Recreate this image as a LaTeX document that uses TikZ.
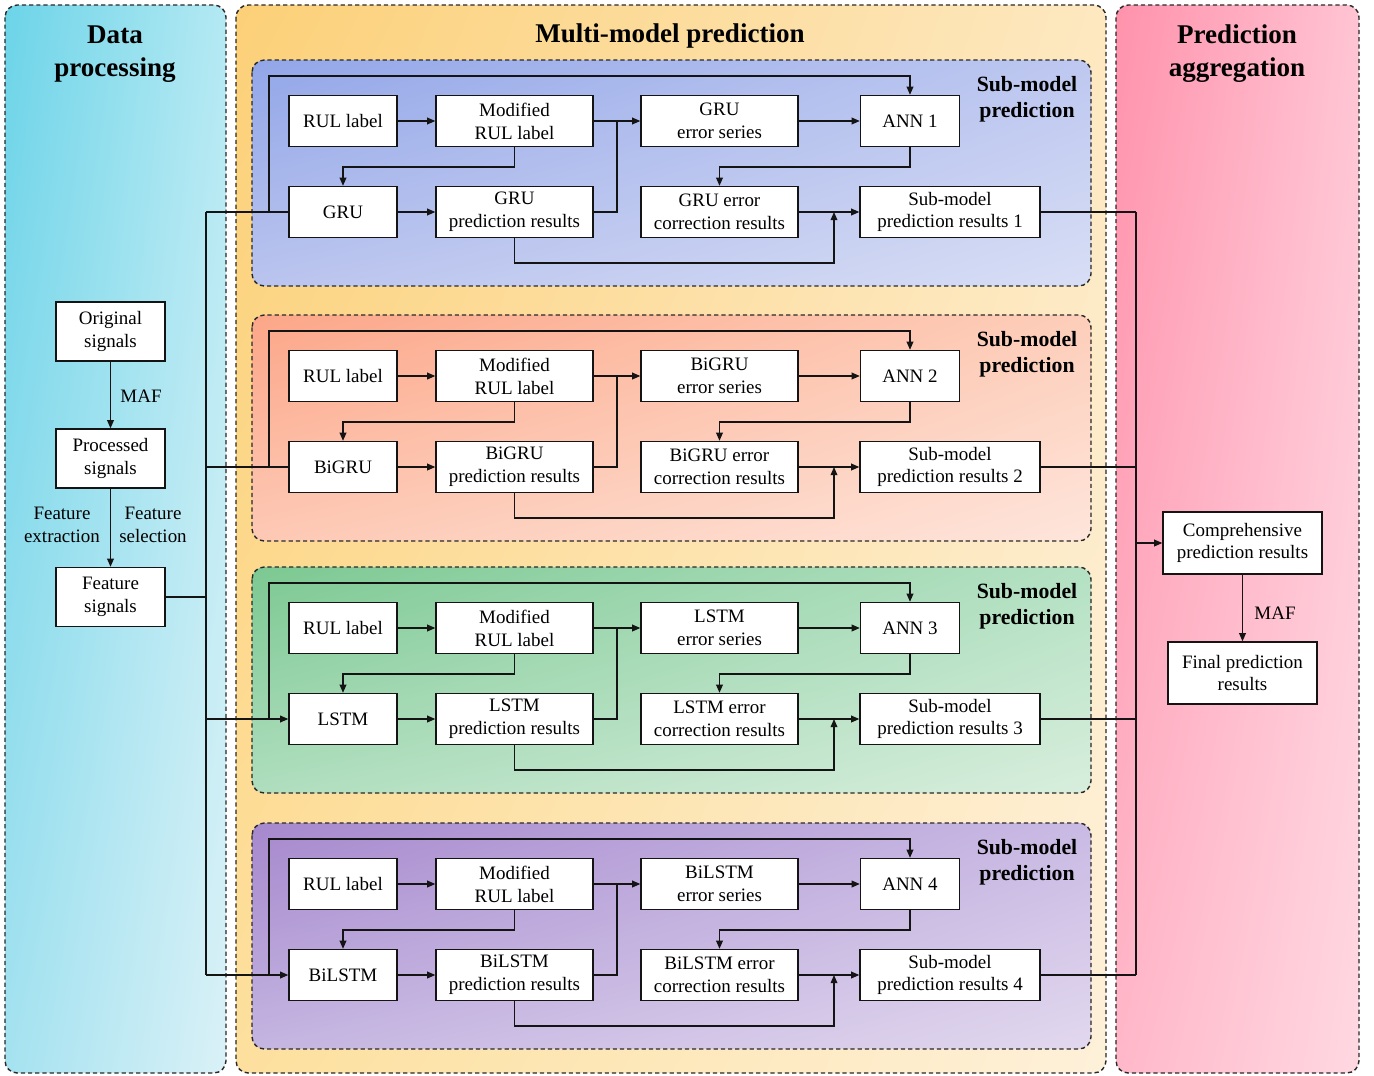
\documentclass[tikz,border=0pt]{standalone}
\usepackage{fontspec}
\setmainfont{Liberation Serif}
\usetikzlibrary{arrows.meta,calc,shadings}
\def\pxu{0.569pt}
\definecolor{dul}{RGB}{108,212,232}
\definecolor{dur}{RGB}{180,233,243}
\definecolor{dll}{RGB}{165,226,240}
\definecolor{dlr}{RGB}{218,241,247}
\definecolor{mul}{RGB}{252,208,120}
\definecolor{mur}{RGB}{253,232,192}
\definecolor{mll}{RGB}{253,224,158}
\definecolor{mlr}{RGB}{254,241,218}
\definecolor{aul}{RGB}{255,146,172}
\definecolor{aur}{RGB}{255,196,211}
\definecolor{all}{RGB}{255,184,201}
\definecolor{alr}{RGB}{255,216,226}
\definecolor{s1ul}{RGB}{146,166,232}
\definecolor{s1ur}{RGB}{190,200,240}
\definecolor{s1ll}{RGB}{186,196,238}
\definecolor{s1lr}{RGB}{216,222,245}
\definecolor{s2ul}{RGB}{252,166,136}
\definecolor{s2ur}{RGB}{253,206,186}
\definecolor{s2ll}{RGB}{253,201,181}
\definecolor{s2lr}{RGB}{254,229,219}
\definecolor{s3ul}{RGB}{124,200,146}
\definecolor{s3ur}{RGB}{180,225,195}
\definecolor{s3ll}{RGB}{175,222,190}
\definecolor{s3lr}{RGB}{216,238,221}
\definecolor{s4ul}{RGB}{166,136,205}
\definecolor{s4ur}{RGB}{201,186,228}
\definecolor{s4ll}{RGB}{196,181,225}
\definecolor{s4lr}{RGB}{226,216,238}
\definecolor{dashc}{RGB}{40,40,40}
\definecolor{linec}{RGB}{20,20,20}
\tikzset{
  panelborder/.style={draw=dashc, line width=0.8pt, dash pattern=on 2.4pt off 1.7pt, rounded corners=7pt},
  box/.style={draw=linec, fill=white, line width=0.8pt, inner sep=0pt, align=center,
    font=\fontsize{10.8}{13}\selectfont, minimum height=51*\pxu},
  conn/.style={draw=linec, line width=0.7pt},
  arr/.style={conn, -{Triangle[length=4.6pt,width=3.8pt]}},
  plain/.style={conn},
  lbl/.style={font=\fontsize{10.8}{13}\selectfont, align=center, inner sep=0pt},
  ttl/.style={font=\fontsize{15.4}{18.8}\selectfont\bfseries, align=center, inner sep=0pt},
  subttl/.style={font=\fontsize{12.4}{14.8}\selectfont\bfseries, align=center, inner sep=0pt},
}
\begin{document}
\begin{tikzpicture}[x=0.02cm,y=-0.02cm]
\fill[white] (0,0) rectangle (1374,1076);
\useasboundingbox (0,0) rectangle (1374,1076);
% outer panels
\shade[rounded corners=7pt, upper left=dul, upper right=dur, lower left=dll, lower right=dlr] (5,5) rectangle (226,1073);
\path[panelborder] (5,5) rectangle (226,1073);
\shade[rounded corners=7pt, upper left=mul, upper right=mur, lower left=mll, lower right=mlr] (236,5) rectangle (1106,1073);
\path[panelborder] (236,5) rectangle (1106,1073);
\shade[rounded corners=7pt, upper left=aul, upper right=aur, lower left=all, lower right=alr] (1116,5) rectangle (1359,1073);
\path[panelborder] (1116,5) rectangle (1359,1073);
\node[ttl] (tdata) at (115,54) {Data\\processing};
\node[ttl] (tmulti) at (670,36) {Multi-model prediction};
\node[ttl] (tagg) at (1237,54) {Prediction\\aggregation};
% sub panels
\foreach \i/\T/\m/\tip in {1/60/GRU/plain, 2/315/BiGRU/plain, 3/567/LSTM/arr, 4/823/BiLSTM/arr}{
  \pgfmathsetmacro{\ra}{\T+61}
  \pgfmathsetmacro{\rb}{\T+152}
  \shade[rounded corners=7pt, upper left=s\i ul, upper right=s\i ur, lower left=s\i ll, lower right=s\i lr] (252,\T) rectangle (1091,{\T+226});
  \path[panelborder] (252,\T) rectangle (1091,{\T+226});
  \node[subttl] (st\i) at (1027,{\T+39}) {Sub-model\\prediction};
  \node[box, minimum width=108*\pxu] (rul\i) at (343,\ra) {RUL label};
  \node[box, minimum width=157*\pxu] (mod\i) at (514.5,\ra) {Modified\\RUL label};
  \node[box, minimum width=157*\pxu] (err\i) at (719.5,\ra) {\m\\error series};
  \node[box, minimum width=99*\pxu] (ann\i) at (910,\ra) {ANN \i};
  \node[box, minimum width=108*\pxu] (mdl\i) at (343,\rb) {\m};
  \node[box, minimum width=157*\pxu] (pred\i) at (514.5,\rb) {\m\\prediction results};
  \node[box, minimum width=157*\pxu] (corr\i) at (719.5,\rb) {\m\ error\\correction results};
  \node[box, minimum width=180*\pxu] (sub\i) at (950,\rb) {Sub-model\\prediction results \i};
  \coordinate (top\i) at (0,{\T+16});
  \coordinate (mid\i) at (0,{\T+107});
  \coordinate (bot\i) at (0,{\T+203});
  \coordinate (jn\i) at (617,\ra);
  \coordinate (fb\i) at (269,\rb);
  \coordinate (up\i) at (834,\rb);
  \coordinate (lb\i) at (206,\rb);
  \coordinate (rb\i) at (1136,\rb);
  \draw[arr] (rul\i) -- (mod\i);
  \draw[arr] (mod\i) -- (err\i);
  \draw[conn] (pred\i.east) -| (jn\i);
  \draw[arr] (err\i) -- (ann\i);
  \draw[arr] (mod\i.south) |- (mdl\i.north |- mid\i) -- (mdl\i.north);
  \draw[arr] (ann\i.south) |- (corr\i.north |- mid\i) -- (corr\i.north);
  \draw[arr] (fb\i) |- (ann\i.north |- top\i) -- (ann\i.north);
  \draw[arr] (mdl\i) -- (pred\i);
  \draw[arr] (corr\i) -- (sub\i);
  \draw[arr] (pred\i.south) |- (up\i |- bot\i) -- (up\i);
  \draw[\tip] (lb\i) -- (mdl\i.west);
  \draw[conn] (sub\i.east) -- (rb\i);
}
% left column
\node[box, minimum width=109*\pxu, minimum height=59*\pxu] (orig) at (110.5,331.5) {Original\\signals};
\node[box, minimum width=109*\pxu, minimum height=59*\pxu] (proc) at (110.5,458.5) {Processed\\signals};
\node[box, minimum width=109*\pxu, minimum height=59*\pxu] (feat) at (110.5,597) {Feature\\signals};
\draw[arr] (orig) -- (proc);
\draw[arr] (proc) -- (feat);
\node[lbl] (maf1) at (141,396) {MAF};
\node[lbl] (fext) at (62,525) {Feature\\extraction};
\node[lbl] (fsel) at (153,525) {Feature\\selection};
\draw[conn] (lb1) -- (lb4);
\draw[conn] (feat.east) -- (feat.east -| lb1);
% right column
\node[box, minimum width=159*\pxu, minimum height=62*\pxu] (comp) at (1242.5,543) {Comprehensive\\prediction results};
\node[box, minimum width=149*\pxu, minimum height=62*\pxu] (final) at (1242.5,673) {Final prediction\\results};
\draw[conn] (rb1) -- (rb4);
\draw[arr] (comp.west -| rb1) -- (comp.west);
\draw[arr] (comp) -- (final);
\node[lbl] (maf2) at (1275,613) {MAF};
\end{tikzpicture}
\end{document}
